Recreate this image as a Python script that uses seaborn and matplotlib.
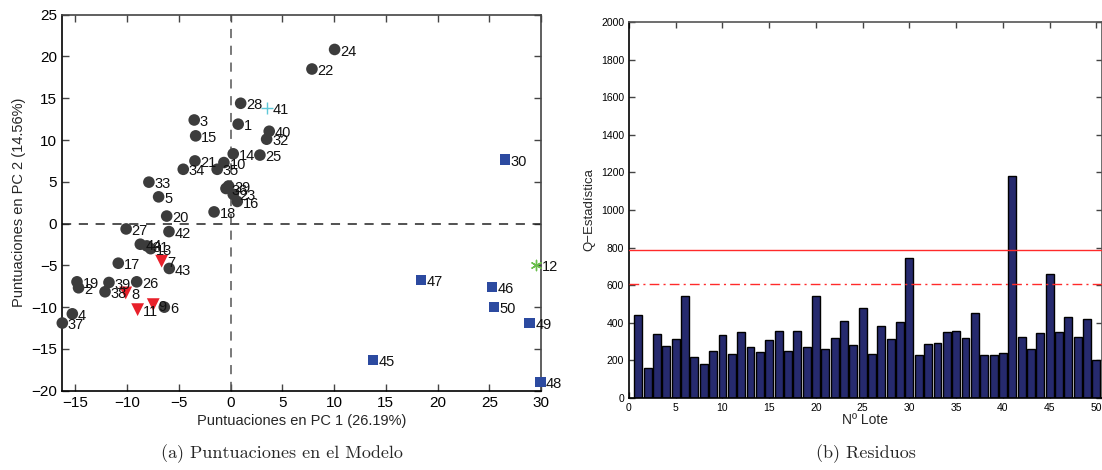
import matplotlib
matplotlib.use("Agg")
import matplotlib.pyplot as plt
import seaborn as sns
import numpy as np
import pandas as pd

# ---------------- data ----------------
lote = list(range(1, 51))
pc1 = [0.73, -14.7, -3.52, -15.3, -6.96, -6.41, -6.67, -10.14, -7.48, -0.65,
       -8.99, 29.5, -7.73, 0.25, -3.38, 0.64, -10.86, -1.6, -14.85, -6.18,
       -3.45, 7.86, 0.25, 10.05, 2.83, -9.08, -10.1, 0.97, -0.2, 26.5,
       -8.1, 3.48, -7.9, -4.58, -1.3, -0.45, -16.27, -12.14, -11.76, 3.73,
       3.48, -5.96, -5.93, -8.73, 13.78, 25.25, 18.39, 29.95, 28.9, 25.44]
pc2 = [11.9, -7.68, 12.4, -10.8, 3.2, -10.0, -4.5, -8.3, -9.7, 7.3,
       -10.3, -4.98, -3.0, 8.35, 10.5, 2.65, -4.74, 1.4, -6.97, 0.9,
       7.5, 18.5, 3.5, 20.84, 8.2, -6.97, -0.64, 14.4, 4.5, 7.67,
       -2.67, 10.1, 4.96, 6.5, 6.5, 4.2, -11.9, -8.16, -7.05, 11.05,
       13.8, -0.96, -5.37, -2.47, -16.3, -7.6, -6.77, -18.94, -11.86, -10.0]
grupo = ["normal"] * 50
for i in [7, 8, 9, 11]:
    grupo[i - 1] = "triangulo"
for i in [30, 45, 46, 47, 48, 49, 50]:
    grupo[i - 1] = "cuadrado"
grupo[12 - 1] = "estrella"
grupo[41 - 1] = "cruz"

q_est = [441, 161, 341, 275, 314, 541, 220, 179, 252, 336,
         234, 350, 270, 243, 311, 359, 250, 354, 271, 543,
         262, 318, 409, 282, 477, 236, 382, 314, 402, 746,
         227, 286, 295, 352, 357, 318, 450, 230, 230, 237,
         1181, 323, 262, 345, 662, 352, 429, 323, 418, 200]
lim_99 = 789
lim_95 = 609

# ---------------- style ----------------
sns.set_theme(style="white")
plt.rcParams["font.family"] = ["Liberation Sans", "DejaVu Sans"]
plt.rcParams["xtick.direction"] = "in"
plt.rcParams["ytick.direction"] = "in"

fig = plt.figure(figsize=(11.02, 4.70), dpi=100)
W, H = 1102, 470
ax1 = fig.add_axes([62 / W, 1 - 390.7 / H, (541 - 62) / W, (390.7 - 14.7) / H])
ax2 = fig.add_axes([629 / W, 1 - 398 / H, (1102 - 629) / W, (398 - 22) / H])

df = pd.DataFrame({"lote": lote, "pc1": pc1, "pc2": pc2, "grupo": grupo})

# ---------------- left panel ----------------
ax1.axhline(0, color="#222222", ls=(0, (6, 5)), lw=1.1, zorder=1)
ax1.axvline(0, color="#555555", ls=(0, (6, 5)), lw=1.1, zorder=1)

estilos = {
    "normal": dict(marker="o", color="#3c3c3c", s=70, lw=0),
    "triangulo": dict(marker="v", color="#e8202a", s=85, lw=0),
    "cuadrado": dict(marker="s", color="#2c4aa0", s=55, lw=0),
    "estrella": dict(marker=(6, 2, 0), color="#6abf4b", s=55, lw=1.0),
    "cruz": dict(marker="+", color="#5fc8d8", s=70, lw=1.0),
}
for g, st in estilos.items():
    sub = df[df["grupo"] == g]
    sns.scatterplot(data=sub, x="pc1", y="pc2", ax=ax1, marker=st["marker"],
                    color=st["color"], s=st["s"], linewidth=st["lw"],
                    edgecolor=st["color"] if st["lw"] > 0 else "none",
                    zorder=3, clip_on=False, legend=False)

for l, x, y in zip(lote, pc1, pc2):
    ax1.annotate(str(l), (x, y), xytext=(4, -1.5), textcoords="offset points",
                 fontsize=10.5, va="center", ha="left", color="#111111", zorder=4)

ax1.set_xlim(-16.3, 30)
ax1.set_ylim(-20, 25)
ax1.set_xticks(np.arange(-15, 31, 5))
ax1.set_yticks(np.arange(-20, 26, 5))
ax1.tick_params(axis="both", which="major", labelsize=11, length=5, width=1.0, top=True, right=True,
                bottom=True, left=True, colors="#444444", labelcolor="black")
ax1.set_xlabel("Puntuaciones en PC 1 (26.19%)", fontsize=10.5, labelpad=3)
ax1.set_ylabel("Puntuaciones en PC 2 (14.56%)", fontsize=10.5, labelpad=4)
for side, sp in ax1.spines.items():
    sp.set_color("black" if side in ("left", "bottom") else "#444444")
    sp.set_linewidth(1.2)

# ---------------- right panel ----------------
sns.barplot(x=lote, y=q_est, native_scale=True, width=0.85, color="#262a6e",
            saturation=1, edgecolor="black", linewidth=1.0, ax=ax2, zorder=2)
ax2.axhline(lim_99, color="#ff2a2a", lw=1.0, zorder=3)
ax2.axhline(lim_95, color="#ff2a2a", lw=1.0, ls=(0, (7, 3, 1.5, 3)), zorder=3)
ax2.set_xlim(0, 50.6)
ax2.set_ylim(0, 2000)
ax2.set_xticks(np.arange(0, 51, 5))
ax2.set_xticklabels([str(v) for v in range(0, 51, 5)])
ax2.set_yticks(np.arange(0, 2001, 200))
ax2.tick_params(axis="both", which="major", labelsize=7.5, length=4, width=1.0, top=True, right=True,
                bottom=True, left=True, colors="#444444", labelcolor="black")
ax2.set_xlabel("Nº Lote", fontsize=10, labelpad=0)
ax2.set_ylabel("Q−Estadística", fontsize=9.5, labelpad=4)
for side, sp in ax2.spines.items():
    sp.set_color("black" if side in ("left", "bottom") else "#555555")
    sp.set_linewidth(1.2)

# ---------------- captions ----------------
fig.text(282 / W, 1 - 454 / H, "(a) Puntuaciones en el Modelo", family=["cmr10", "DejaVu Serif"],
         fontsize=13, ha="center", va="center")
fig.text(866 / W, 1 - 454 / H, "(b) Residuos", family=["cmr10", "DejaVu Serif"],
         fontsize=13, ha="center", va="center")

fig.savefig("out.png", dpi=100)
